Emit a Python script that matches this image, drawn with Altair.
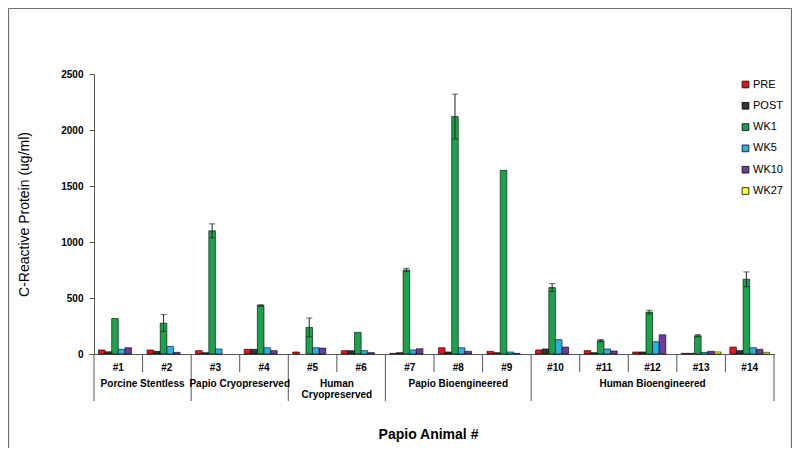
import altair as alt
import pandas as pd

FONT = "Liberation Sans"

animals = ["#1", "#2", "#3", "#4", "#5", "#6", "#7", "#8", "#9", "#10", "#11", "#12", "#13", "#14"]
series = ["PRE", "POST", "WK1", "WK5", "WK10", "WK27"]
colors = ["#E8141C", "#333333", "#1BA34B", "#2BB0E6", "#6A3E9E", "#FFFF33"]

PRE = [36, 36, 30, 42, 18, 30, 6, 56, 24, 36, 30, 18, 6, 62]
POST = [20, 24, 12, 42, None, 30, 12, 18, 12, 45, 12, 18, 6, 30]
WK1 = [317, 276, 1100, 433, 237, 193, 750, 2120, 1640, 593, 119, 374, 163, 667]
WK5 = [42, 68, 45, 56, 56, 30, 36, 56, 18, 128, 45, 110, 15, 56]
WK10 = [56, 15, None, 30, 53, 12, 47, 24, 6, 62, 27, 172, 24, 42]
WK27 = [None, None, None, None, None, None, None, None, None, None, None, None, 18, 15]
WK1_err = [0, 76, 62, 7, 84, 0, 15, 200, 0, 35, 10, 17, 10, 66]

groups = ["Porcine Stentless", "Papio Cryopreserved", "Human\nCryopreserved",
          "Papio Bioengineered", "Human Bioengineered"]
group_sizes = [2, 2, 2, 3, 5]

y_ticks = [0, 500, 1000, 1500, 2000, 2500]

# ---- tables ----
vals = {"PRE": PRE, "POST": POST, "WK1": WK1, "WK5": WK5, "WK10": WK10, "WK27": WK27}
rows = []
for s in series:
    for a, v in zip(animals, vals[s]):
        if v is not None:
            rows.append({"animal": a, "series": s, "value": v})
df = pd.DataFrame(rows)

err = pd.DataFrame([{"animal": a, "series": "WK1", "lo": v - e, "hi": v + e}
                    for a, v, e in zip(animals, WK1, WK1_err) if e > 0])

starts, b = [], 0
for n in group_sizes:
    starts.append(b)
    b += n
bounds_long = starts + [b]
grp = pd.DataFrame({"name": groups,
                    "mid": [s + n / 2 for s, n in zip(starts, group_sizes)]})
long_df = pd.DataFrame({"idx": bounds_long})
short_df = pd.DataFrame({"idx": [i for i in range(1, len(animals)) if i not in bounds_long]})

W, H = 680, 280
TITLE = "C-Reactive Protein (ug/ml)"

xband = alt.Scale(domain=animals, paddingInner=0, paddingOuter=0)
xoff = alt.XOffset("series:N", sort=series,
                   scale=alt.Scale(domain=series, paddingInner=0, paddingOuter=0.67))
yscale = alt.Scale(domain=[0, 2500], nice=False)
xq = alt.Scale(domain=[0, len(animals)], nice=False, zero=False)

bars = alt.Chart(df).mark_bar(stroke="black", strokeWidth=0.6).encode(
    x=alt.X("animal:N", sort=animals, scale=xband,
            axis=alt.Axis(title="Papio Animal #", ticks=False, labelAngle=0,
                          labelFont=FONT, labelFontSize=10, labelFontWeight="bold",
                          labelColor="black", labelPadding=13, labelBaseline="middle",
                          domainColor="#555555", titleFont=FONT, titleFontSize=14,
                          titleFontWeight="bold", titleColor="black",
                          titleY=80, titleX=334, titleBaseline="middle")),
    xOffset=xoff,
    y=alt.Y("value:Q", scale=yscale,
            axis=alt.Axis(values=y_ticks, format="d", grid=False, title=TITLE,
                          labelFont=FONT, labelFontSize=10, labelFontWeight="bold",
                          labelColor="black", tickSize=5, labelPadding=6,
                          tickColor="#555555", domainColor="#555555",
                          titleFont=FONT, titleFontSize=14, titleFontWeight="normal",
                          titleColor="black", titleX=-70, titleY=140,
                          titleBaseline="middle", titleAlign="center")),
    color=alt.Color("series:N", sort=series,
                    scale=alt.Scale(domain=series, range=colors),
                    legend=alt.Legend(title=None, orient="none", legendX=646, legendY=5,
                                      symbolType="square", symbolSize=45,
                                      symbolStrokeColor="black", symbolStrokeWidth=0.8,
                                      labelFont=FONT, labelFontSize=11, labelColor="black",
                                      rowPadding=9.3, labelOffset=2, padding=0)),
)

err_rule = alt.Chart(err).mark_rule(color="#222222", strokeWidth=1).encode(
    x=alt.X("animal:N", sort=animals, scale=xband, axis=None),
    xOffset=xoff,
    y=alt.Y("lo:Q", scale=yscale, title=TITLE),
    y2="hi:Q",
)
cap_hi = alt.Chart(err).mark_tick(color="#222222", size=6, thickness=1).encode(
    x=alt.X("animal:N", sort=animals, scale=xband, axis=None),
    xOffset=xoff,
    y=alt.Y("hi:Q", scale=yscale, title=TITLE),
)
cap_lo = alt.Chart(err).mark_tick(color="#222222", size=6, thickness=1).encode(
    x=alt.X("animal:N", sort=animals, scale=xband, axis=None),
    xOffset=xoff,
    y=alt.Y("lo:Q", scale=yscale, title=TITLE),
)

sep_long = alt.Chart(long_df).mark_rule(color="#555555", strokeWidth=1).encode(
    x=alt.X("idx:Q", scale=xq, axis=None),
    y=alt.value(H), y2=alt.value(H + 47),
)
sep_short = alt.Chart(short_df).mark_rule(color="#555555", strokeWidth=1).encode(
    x=alt.X("idx:Q", scale=xq, axis=None),
    y=alt.value(H), y2=alt.value(H + 18),
)
grp_text = alt.Chart(grp).mark_text(font=FONT, fontSize=10, fontWeight="bold",
                                    color="black", baseline="top", lineBreak="\n",
                                    lineHeight=11).encode(
    x=alt.X("mid:Q", scale=xq, axis=None),
    y=alt.value(H + 25),
    text="name:N",
)

one = pd.DataFrame({"k": [0]})
frame_l = alt.Chart(one).mark_rule(color="#707070", strokeWidth=1.2).encode(
    x=alt.value(-85.5), y=alt.value(-65.5), y2=alt.value(374))
frame_t = alt.Chart(one).mark_rule(color="#707070", strokeWidth=1.2).encode(
    x=alt.value(-85.5), x2=alt.value(697.5), y=alt.value(-65.5))
frame_r = alt.Chart(one).mark_rule(color="#707070", strokeWidth=1.2).encode(
    x=alt.value(697.5), y=alt.value(-65.5), y2=alt.value(374))

chart = alt.layer(
    bars, err_rule, cap_hi, cap_lo, sep_long, sep_short, grp_text,
    frame_l, frame_t, frame_r
).resolve_scale(x="independent").properties(
    width=W, height=H,
    padding={"left": 86, "top": 66, "right": 18, "bottom": 94},
    autosize=alt.AutoSizeParams(type="none"),
    background="white",
).configure_view(stroke=None)

chart.save("out.html", embed_options={"renderer": "svg", "actions": False})
